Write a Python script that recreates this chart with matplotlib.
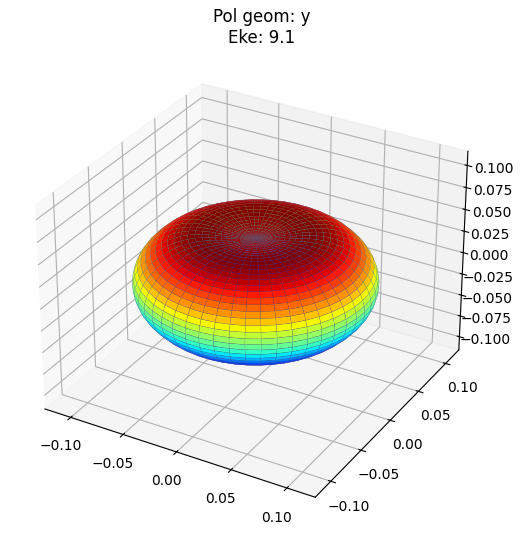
#!/usr/bin/env python3
import numpy as np
import matplotlib
matplotlib.use("Agg")
import matplotlib.pyplot as plt

# radius, pole to equator, one value per polar step
r_upper = [0.0475, 0.0477, 0.0481, 0.0488, 0.0499, 0.0514, 0.0531, 0.0551, 0.0576,
           0.0607, 0.0640, 0.0675, 0.0712, 0.0746, 0.0778, 0.0808, 0.0836, 0.0863,
           0.0889, 0.0912, 0.0933, 0.0954, 0.0971, 0.0983, 0.0992, 0.0995]
title = "Pol geom: y\nEke: 9.1"
xylim = [-0.125, 0.125]
zlim = [-0.116, 0.116]
ticks = [-0.10, -0.05, 0.00, 0.05, 0.10]
zticks = [-0.100, -0.075, -0.050, -0.025, 0.000, 0.025, 0.050, 0.075, 0.100]

r = np.array(r_upper + r_upper[-2::-1])
theta = np.linspace(0, np.pi, len(r))
phi = np.linspace(0, 2 * np.pi, 51)
T, P = np.meshgrid(theta, phi)
R = np.tile(r, (len(phi), 1))
X = R * np.sin(T) * np.cos(P)
Y = R * np.sin(T) * np.sin(P)
Z = R * np.cos(T)

fig = plt.figure(figsize=(5.23, 5.37), dpi=100)
ax = fig.add_axes([0.0165, 0.0175, 0.92, 0.896], projection="3d")
ax.plot_surface(X, Y, Z, rstride=1, cstride=1, cmap="jet",
                edgecolor=(0.35, 0.35, 0.5, 0.4), linewidth=0.25)
ax.set_xlim(xylim)
ax.set_ylim(xylim)
ax.set_zlim(zlim)
ax.set_xticks(ticks)
ax.set_yticks(ticks)
ax.set_zticks(zticks)
fig.text(0.5, 0.985, title, ha="center", va="top", fontsize=12)
fig.savefig("out.png", dpi=100)
